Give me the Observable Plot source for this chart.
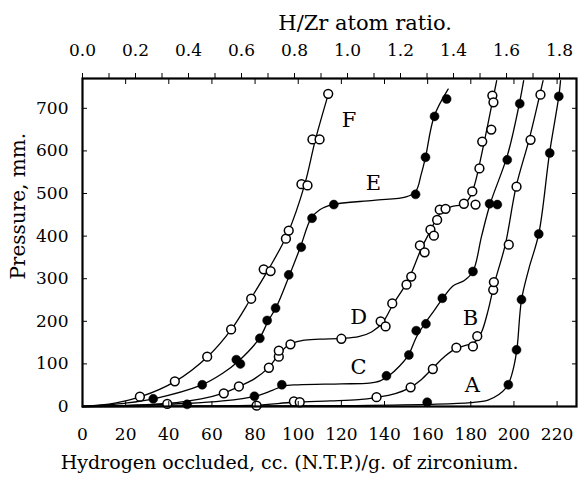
<!DOCTYPE html>
<html><head><meta charset="utf-8">
<script src="https://cdn.jsdelivr.net/npm/d3@7"></script>
<script src="https://cdn.jsdelivr.net/npm/@observablehq/plot@0.6"></script>
<style>body{margin:0;background:#fff;}</style>
</head><body><div id="chart"></div>
<script>
// cc of H2 (N.T.P.) per g Zr that equals an H/Zr atom ratio of 1
const ccPerRatio = 122.85;
const xTicks = [0, 20, 40, 60, 80, 100, 120, 140, 160, 180, 200, 220];
const yTicks = [0, 100, 200, 300, 400, 500, 600, 700];
const ratioLabels = [0, 0.2, 0.4, 0.6, 0.8, 1.0, 1.2, 1.4, 1.6, 1.8];
const ratioMinor = [0, 0.1, 0.2, 0.3, 0.4, 0.5, 0.6, 0.7, 0.8, 0.9, 1.0, 1.1, 1.2, 1.3, 1.4, 1.5, 1.6, 1.7, 1.8];

// measured points [cc/g, pressure mm]
const ptsA = [[159.8,10],[197.4,51],[201.2,133],[203.5,251],[211.5,405],[216.6,595],[220.8,728]];
const ptsB = [[80.7,2],[98,12],[100.7,10],[136.3,22],[152.1,45],[162.4,88],[173.3,138],[181,141],[183,165],[190.4,274],[190.7,292],[197.6,380],[201.2,516],[207.7,626],[212.3,732]];
const ptsC = [[48.5,5],[79.7,24],[92.4,51],[140.9,72],[151.3,121],[154.7,178],[159.2,194],[166.8,254],[181,317],[188.7,476],[192.3,474],[196.9,579],[202.7,711]];
const ptsD = [[39.3,6],[65.5,31],[72.5,47],[86.4,91],[91,117],[91,131],[96.4,146],[120,159],[138.2,200],[140.5,188],[143.6,242],[150.2,286],[152.4,305],[156.4,378],[158.6,362],[161.3,415],[162.9,401],[164.4,438],[165.6,462],[168.3,464],[176.8,476],[182.2,474],[180.7,505],[184,559],[185.3,622],[189.5,650],[190,730],[190.5,714]];
const ptsE = [[32.8,18],[55.5,51],[71.3,110],[73.2,100],[82.2,160],[85.6,202],[89.5,231],[95.6,309],[101.4,374],[106.4,442],[116.5,474],[154.4,498],[159,585],[163.2,681],[168.8,722]];
const ptsF = [[26.6,23],[42.8,59],[57.8,117],[68.9,181],[78.2,253],[84,322],[87.2,318],[94.3,394],[95.6,413],[101.5,522],[104.3,519],[106.6,627],[109.9,627],[113.9,734]];

// drawn (smoothed) curves
const lineA = [[0,0],[60,1],[120,2],[160,5],[180,9],[188,15],[193,28],[196,42],[198,60],[200,95],[201.5,140],[203.5,250],[207,325],[211.5,405],[216.5,595],[220.8,728],[221.6,765]];
const lineB = [[0,0],[40,1],[80,3],[98,10],[115,13],[128,16],[136,21],[145,30],[152,45],[157,63],[162,88],[168,118],[173,136],[178,144],[182,152],[185,175],[188,225],[191,290],[196,380],[201,516],[207,626],[212,732],[213.5,765]];
const lineC = [[0,0],[25,3],[48,7],[65,13],[80,24],[88,38],[93,48],[100,51],[120,53],[133,55],[138,60],[142,72],[147,95],[151,120],[155,165],[159,197],[163,225],[167,254],[172,284],[177,296],[181,317],[185,400],[189,476],[197,590],[202.5,711],[204.5,765]];
const lineD = [[0,0],[20,2],[39,7],[55,18],[65,31],[73,48],[80,66],[86,90],[91,122],[96,146],[102,155],[110,158],[120,160],[128,164],[134,175],[139,196],[144,240],[150,288],[153,320],[157,370],[161,410],[164,440],[167,460],[171,469],[177,476],[180,495],[182,525],[184,568],[187,640],[190,715],[192,765]];
const lineE = [[0,0],[20,8],[33,18],[55,50],[65,78],[72,105],[82,160],[86,200],[90,235],[96,309],[101,374],[106,442],[110,462],[116,474],[135,484],[150,492],[154.5,505],[157,545],[159,585],[163,681],[169.5,745]];
const lineF = [[0,0],[15,8],[27,23],[43,59],[58,117],[69,181],[78,253],[86,320],[95,405],[103,521],[108,627],[114,734]];

const curveNames = ["A", "B", "C", "D", "E", "F"];
const curveLabelX = [180.7, 179.9, 128, 128, 134.9, 123.5];
const curveLabelY = [49, 207, 92, 209, 523, 671];

const titleTop = "H/Zr atom ratio.";
const titleTopX = 131;
const titleBottom = "Hydrogen occluded, cc. (N.T.P.)/g. of zirconium.";
const titleBottomX = 96;
const titleLeft = "Pressure, mm.";
const titleLeftY = 470;

const toObj = (arr) => arr.map(([x, y]) => ({x, y}));
const lines = [lineA, lineB, lineC, lineD, lineE, lineF];
const openPts = [ptsB, ptsD, ptsF].flatMap(toObj);
const filledPts = [ptsA, ptsC, ptsE].flatMap(toObj);
const labels = curveNames.map((t, i) => ({t, x: curveLabelX[i], y: curveLabelY[i]}));

const font = "DejaVu Serif";
const chart = Plot.plot({
  width: 583, height: 477,
  marginTop: 78, marginBottom: 71, marginLeft: 82, marginRight: 7,
  style: {fontFamily: font, fontSize: "17px", background: "#fff", color: "#000"},
  x: {domain: [0, 229]},
  y: {domain: [0, 770]},
  marks: [
    ...lines.map(l => Plot.line(toObj(l), {x: "x", y: "y", curve: "catmull-rom", stroke: "#000", strokeWidth: 1.3})),
    Plot.dot(openPts, {x: "x", y: "y", r: 4.4, fill: "#fff", stroke: "#000", strokeWidth: 1.5}),
    Plot.dot(filledPts, {x: "x", y: "y", r: 4.5, fill: "#000", stroke: "#000", strokeWidth: 0.5}),
    Plot.text(labels, {x: "x", y: "y", text: "t", fontSize: 21, fontFamily: font}),
    Plot.frame({stroke: "#000", strokeWidth: 2.2}),
    Plot.axisY(yTicks, {anchor: "left", tickSize: 0, tickPadding: 14, label: null}),
    Plot.axisY(yTicks, {anchor: "left", tickSize: -5, tickFormat: () => "", label: null}),
    Plot.axisY(yTicks, {anchor: "right", tickSize: -5, tickFormat: () => "", label: null}),
    Plot.axisX(xTicks, {anchor: "bottom", tickSize: 0, tickPadding: 21, label: null}),
    Plot.axisX(xTicks, {anchor: "bottom", tickSize: -5, tickFormat: () => "", label: null}),
    Plot.axisX(xTicks, {anchor: "top", tickSize: -5, tickFormat: () => "", label: null}),
    Plot.axisX(ratioMinor.map(r => r * ccPerRatio), {anchor: "top", tickSize: 6, tickFormat: () => "", label: null}),
    Plot.axisX(ratioLabels.map(r => r * ccPerRatio), {anchor: "top", tickSize: 0, tickPadding: 23, tickFormat: d => (d / ccPerRatio).toFixed(1), label: null}),
    Plot.text([{t: titleTop, x: titleTopX}], {x: "x", text: "t", frameAnchor: "top", lineAnchor: "middle", textAnchor: "middle", dy: -55, fontSize: 21}),
    Plot.text([{t: titleBottom, x: titleBottomX}], {x: "x", text: "t", frameAnchor: "bottom", lineAnchor: "middle", textAnchor: "middle", dy: 56, fontSize: 19}),
    Plot.text([{t: titleLeft, y: titleLeftY}], {y: "y", text: "t", frameAnchor: "left", lineAnchor: "middle", textAnchor: "middle", dx: -64, rotate: -90, fontSize: 20})
  ]
});
document.getElementById("chart").append(chart);
</script>
</body></html>
